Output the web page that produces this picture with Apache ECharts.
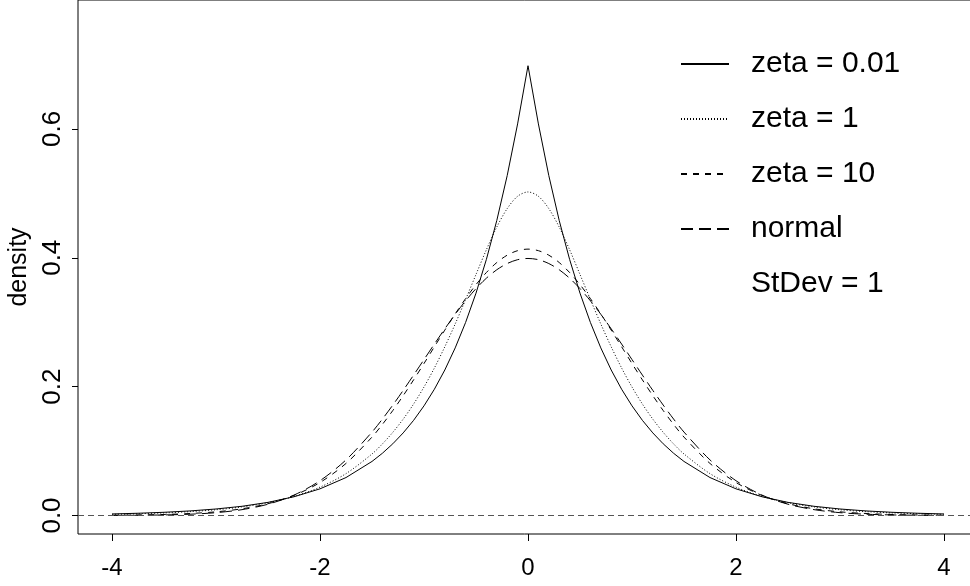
<!DOCTYPE html>
<html>
<head>
<meta charset="utf-8">
<script src="https://cdn.jsdelivr.net/npm/echarts@6/dist/echarts.min.js"></script>
<style>html,body{margin:0;padding:0;background:#fff}#c{width:970px;height:586px}</style>
</head>
<body>
<div id="c"></div>
<script>
// x positions (shared by all curves)
const xs = [-4,-3.75,-3.5,-3.25,-3,-2.75,-2.5,-2.25,-2,-1.75,-1.5,-1.4,-1.3,-1.2,-1.1,-1,-0.9,-0.8,-0.7,-0.6,-0.5,-0.4,-0.3,-0.2,-0.1,0,
            0.1,0.2,0.3,0.4,0.5,0.6,0.7,0.8,0.9,1,1.1,1.2,1.3,1.4,1.5,1.75,2,2.25,2.5,2.75,3,3.25,3.5,3.75,4];
// density values
const zeta001 = [0.0024,0.0035,0.0050,0.0071,0.0101,0.0143,0.0204,0.0291,0.0414,0.0589,0.0839,0.0966,0.1113,0.1282,0.1477,0.1702,0.1960,0.2258,0.2601,0.2996,0.3451,0.3975,0.4579,0.5275,0.6077,0.698,
                 0.6077,0.5275,0.4579,0.3975,0.3451,0.2996,0.2601,0.2258,0.1960,0.1702,0.1477,0.1282,0.1113,0.0966,0.0839,0.0589,0.0414,0.0291,0.0204,0.0143,0.0101,0.0071,0.0050,0.0035,0.0024];
const zeta1 = [0.0018,0.0027,0.0040,0.0060,0.0089,0.0133,0.0199,0.0296,0.0440,0.0650,0.0955,0.1111,0.1291,0.1496,0.1730,0.1994,0.2290,0.2618,0.2973,0.3352,0.3741,0.4125,0.4477,0.4763,0.4954,0.5021,
               0.4954,0.4763,0.4477,0.4125,0.3741,0.3352,0.2973,0.2618,0.2290,0.1994,0.1730,0.1496,0.1291,0.1111,0.0955,0.0650,0.0440,0.0296,0.0199,0.0133,0.0089,0.0060,0.0040,0.0027,0.0018];
const zeta10 = [0.0004,0.0008,0.0016,0.0031,0.0057,0.0104,0.0183,0.0312,0.0512,0.0808,0.1217,0.1414,0.1629,0.1860,0.2105,0.2359,0.2619,0.2877,0.3129,0.3366,0.3583,0.3771,0.3926,0.4040,0.4110,0.4134,
                0.4110,0.4040,0.3926,0.3771,0.3583,0.3366,0.3129,0.2877,0.2619,0.2359,0.2105,0.1860,0.1629,0.1414,0.1217,0.0808,0.0512,0.0312,0.0183,0.0104,0.0057,0.0031,0.0016,0.0008,0.0004];
const normal = [0.0001,0.0004,0.0009,0.0020,0.0044,0.0091,0.0175,0.0317,0.0540,0.0863,0.1295,0.1497,0.1714,0.1942,0.2179,0.2420,0.2661,0.2897,0.3123,0.3332,0.3521,0.3683,0.3814,0.3910,0.3970,0.3989,
                0.3970,0.3910,0.3814,0.3683,0.3521,0.3332,0.3123,0.2897,0.2661,0.2420,0.2179,0.1942,0.1714,0.1497,0.1295,0.0863,0.0540,0.0317,0.0175,0.0091,0.0044,0.0020,0.0009,0.0004,0.0001];
const names = ['zeta = 0.01','zeta = 1','zeta = 10','normal'];
const noteText = 'StDev = 1';
const xTicks = [-4,-2,0,2,4];
const yTicks = [0,0.2,0.4,0.6];
const yTickLabels = ['0.0','0.2','0.4','0.6'];

const pts = arr => xs.map((x,i)=>[x,arr[i]]);
const chart = echarts.init(document.getElementById('c'), null, {renderer:'canvas'});
const font = '"Liberation Sans", Arial, sans-serif';
chart.setOption({
  animation:false,
  backgroundColor:'#fff',
  grid:{left:78, top:0, width:900, bottom:52, show:true, borderColor:'#000', borderWidth:1,
        containLabel:false, outerBoundsMode:'none'},
  xAxis:{type:'value', min:-4.327, max:4.327,
    axisLine:{show:false, onZero:false}, splitLine:{show:false},
    axisTick:{show:true, customValues:xTicks, length:7, lineStyle:{color:'#000'}},
    axisLabel:{customValues:xTicks, color:'#000', fontFamily:font, fontSize:24, margin:22}
  },
  yAxis:{type:'value', min:-0.0287, max:0.80,
    name:'density', nameLocation:'middle', nameGap:35, nameRotate:90,
    nameTextStyle:{color:'#000', fontFamily:font, fontSize:25},
    axisLine:{show:false, onZero:false}, splitLine:{show:false},
    axisTick:{show:true, customValues:yTicks, length:6, lineStyle:{color:'#000'}},
    axisLabel:{customValues:yTicks, rotate:90, color:'#000', fontFamily:font, fontSize:26, margin:12,
      formatter:v=>yTickLabels[yTicks.findIndex(t=>Math.abs(t-v)<1e-9)] ?? ''}
  },
  legend:{orient:'vertical', left:680, top:49, padding:0, itemWidth:48, itemHeight:14, itemGap:25,
    itemStyle:{opacity:0},
    textStyle:{color:'#000', fontFamily:font, fontSize:30, lineHeight:30, padding:[0,0,0,17]},
    data:[...names, {name:noteText, itemStyle:{opacity:0}, lineStyle:{opacity:0}}]
  },
  series:[
    {name:names[0], type:'line', data:pts(zeta001), showSymbol:false, symbol:'none', smooth:false,
      itemStyle:{color:'#000'},
      lineStyle:{color:'#000', width:1, type:'solid'},
      markLine:{silent:true, symbol:'none', label:{show:false}, lineStyle:{color:'#555', type:[6,4], width:1},
        data:[{yAxis:0}]}},
    {name:names[1], type:'line', data:pts(zeta1), symbol:'none', smooth:0.3,
      itemStyle:{color:'#000'},
      lineStyle:{color:'#000', width:1, type:[1,2]}},
    {name:names[2], type:'line', data:pts(zeta10), symbol:'none', smooth:0.3,
      itemStyle:{color:'#000'},
      lineStyle:{color:'#000', width:1, type:[6,6]}},
    {name:names[3], type:'line', data:pts(normal), symbol:'none', smooth:0.3,
      itemStyle:{color:'#000'},
      lineStyle:{color:'#000', width:1, type:[12,6]}},
    {name:noteText, type:'line', data:[], symbol:'none', lineStyle:{opacity:0}}
  ]
});
</script>
</body>
</html>
